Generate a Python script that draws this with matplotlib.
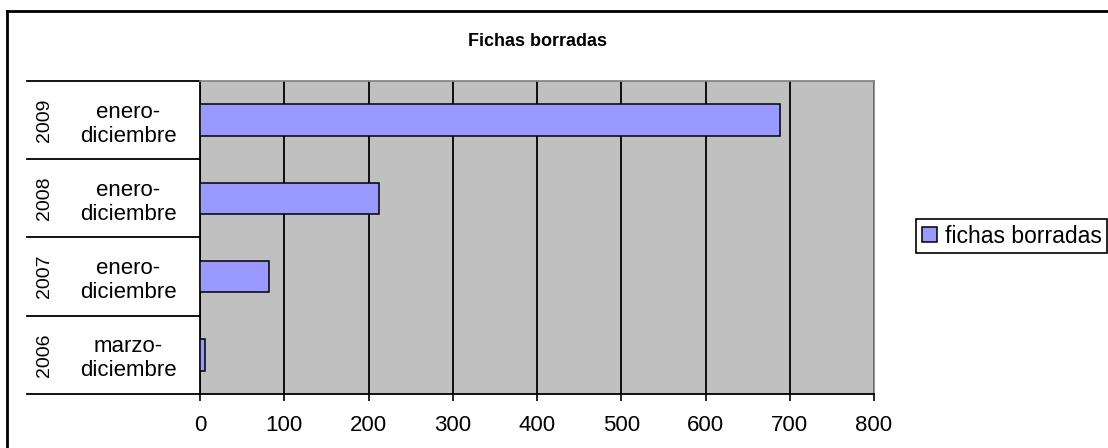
import matplotlib
matplotlib.use('Agg')
import matplotlib.pyplot as plt
from matplotlib.lines import Line2D
import matplotlib.transforms as mtransforms

# ---- data ----
years = ['2006', '2007', '2008', '2009']
periods = ['marzo-\ndiciembre', 'enero-\ndiciembre', 'enero-\ndiciembre', 'enero-\ndiciembre']
values = [6, 82, 213, 689]
series_name = 'fichas borradas'
chart_title = 'Fichas borradas'
xticks = [0, 100, 200, 300, 400, 500, 600, 700, 800]

plt.rcParams['font.family'] = ['Liberation Sans', 'DejaVu Sans']

W, H = 1108, 448
fig = plt.figure(figsize=(W / 100, H / 100), dpi=100)
fig.patch.set_facecolor('white')

ax = fig.add_axes([200 / W, (H - 394) / H, 674 / W, 313 / H])
ax.set_facecolor('#C0C0C0')

pos = list(range(len(values)))
bars = ax.barh(pos, values, height=0.4, color='#9999FF', edgecolor='black',
               linewidth=1.1, label=series_name, zorder=3)

ax.set_xlim(0, 800)
ax.set_ylim(-0.5, len(values) - 0.5)
ax.set_xticks(xticks)
ax.set_xticklabels([str(t) for t in xticks])
ax.set_yticks([])
ax.xaxis.grid(True, color='black', linewidth=1.3, zorder=1)
ax.set_axisbelow(True)

for s in ['top', 'right']:
    ax.spines[s].set_color('#808080')
    ax.spines[s].set_linewidth(1.2)
for s in ['left', 'bottom']:
    ax.spines[s].set_color('black')
    ax.spines[s].set_linewidth(1.3)

ax.tick_params(axis='x', direction='out', length=5, width=1.2, labelsize=16,
               pad=10, colors='black')

# category labels (multi-level)
trans = mtransforms.blended_transform_factory(fig.transFigure, ax.transData)
off = mtransforms.ScaledTranslation(0, -4 / 100, fig.dpi_scale_trans)
for i, (yr, per) in enumerate(zip(years, periods)):
    ax.text(44 / W, i, yr, rotation=90, ha='center', va='center',
            fontsize=14, transform=trans, clip_on=False)
    ax.text(128 / W, i, per, ha='center', va='center', fontsize=16,
            linespacing=1.2, transform=trans + off, clip_on=False)
for b in [k - 0.5 for k in range(len(values) + 1)]:
    ax.add_line(Line2D([27 / W, 200 / W], [b, b], transform=trans, color='black',
                       linewidth=1.3, clip_on=False))

# outer chart frame (top and left edges visible)
fig.add_artist(Line2D([7 / W, 1.0], [1 - 11 / H, 1 - 11 / H], transform=fig.transFigure,
                      color='black', linewidth=2))
fig.add_artist(Line2D([7 / W, 7 / W], [0.0, 1 - 11 / H], transform=fig.transFigure,
                      color='black', linewidth=2))

fig.text(537 / W, 1 - 41 / H, chart_title, ha='center', va='center',
         fontweight='bold', fontsize=13)

leg = ax.legend(handles=[bars], loc='center left',
                bbox_to_anchor=(916 / W, 1 - 236 / H), bbox_transform=fig.transFigure,
                frameon=True, fancybox=False, edgecolor='black', framealpha=1,
                fontsize=16.5, handlelength=0.65, handleheight=0.65, handletextpad=0.35,
                borderpad=0.25, borderaxespad=0)
leg.get_frame().set_linewidth(1.2)

fig.savefig('out.png', dpi=100)
